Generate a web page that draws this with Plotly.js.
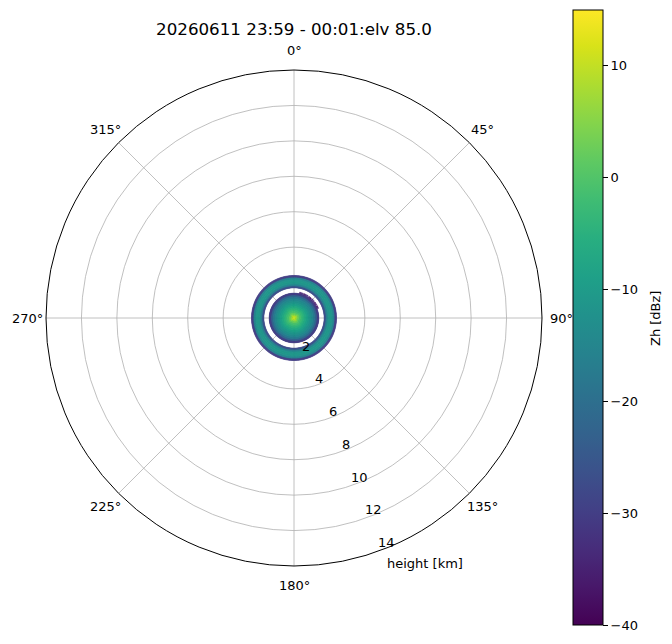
<!DOCTYPE html>
<html>
<head>
<meta charset="utf-8">
<script src="https://cdn.plot.ly/plotly-3.0.1.min.js"></script>
<style>html,body{margin:0;padding:0;background:#fff;}#chart{width:672px;height:644px;}</style>
</head>
<body>
<div id="chart"></div>
<script>
// ---- data ----
const titleText = "20260611 23:59 - 00:01:elv 85.0";
// range gate starts [km] and gate length
const gateStartKm = [0.0, 0.1, 0.2, 0.3, 0.4, 0.5, 0.6, 0.7, 0.8, 0.9, 1.0, 1.1, 1.2, 1.3,
                     1.4, 1.5, 1.6, 1.7, 1.8, 1.9, 2.0, 2.1, 2.2, 2.3];
const gateLenKm = 0.1;
// reflectivity profile along range (null = no echo)
const gateZh = [10, 6, 2, -1, -3, -5, -7, -9, -11, -13, -15, -18, -23, -30,
                null, null, null, -27, -17, -12, -11, -12, -16, -30];
// sparse weak echoes just outside the inner disk (upper-right)
const edgeAzDeg = [14, 18, 23, 27, 31, 36, 40, 45, 49, 54, 58, 63, 67];
const edgeZh = [-36, -34, -37, -35, -33, -36, -38, -35, -34, -37, -36, -38, -35];
const edgeStartKm = 1.42;
const edgeLenKm = 0.07;
// azimuth sampling [deg]
const azStepDeg = 1;
const radialTicks = [2, 4, 6, 8, 10, 12, 14];
const radialMax = 14;
const angularTicks = [0, 45, 90, 135, 180, 225, 270, 315];
const cbTicks = [-40, -30, -20, -10, 0, 10];
const zMin = -40, zMax = 15;

// ---- build bars ----
const th = [], base = [], rr = [], col = [], wd = [];
for (let az = 0; az < 360; az += azStepDeg) {
  for (let g = 0; g < gateStartKm.length; g++) {
    if (gateZh[g] === null) continue;
    th.push(az + azStepDeg / 2);
    base.push(gateStartKm[g]);
    rr.push(gateLenKm);
    col.push(gateZh[g]);
    wd.push(azStepDeg);
  }
}
for (let i = 0; i < edgeAzDeg.length; i++) {
  th.push(edgeAzDeg[i]);
  base.push(edgeStartKm);
  rr.push(edgeLenKm);
  col.push(edgeZh[i]);
  wd.push(3);
}

const font = "DejaVu Sans, Liberation Sans, sans-serif";
const W = 672, H = 644;
const cx = 294, cy = 318, R = 248;
const labelAngle = 157.5 * Math.PI / 180;

const trace = {
  type: 'barpolar',
  theta: th, base: base, r: rr, width: wd,
  marker: {
    color: col, colorscale: 'Viridis', cmin: zMin, cmax: zMax,
    line: {width: 0.6, color: col, colorscale: 'Viridis', cmin: zMin, cmax: zMax},
    showscale: true,
    colorbar: {
      x: 573 / W, xanchor: 'left', xpad: 0,
      y: 1 - 317.5 / H, yanchor: 'middle', ypad: 0,
      thickness: 30, thicknessmode: 'pixels',
      len: 615, lenmode: 'pixels',
      outlinewidth: 1, outlinecolor: '#000',
      ticks: 'outside', ticklen: 5, tickwidth: 1, tickcolor: '#000',
      tickmode: 'array', tickvals: cbTicks,
      ticktext: cbTicks.map(v => v < 0 ? '\u2212' + Math.abs(v) : String(v)),
      tickfont: {family: font, size: 13, color: '#000'},
      title: {text: ''}
    }
  },
  hoverinfo: 'skip'
};

const tf = {family: font, size: 13, color: '#000'};
const annotations = [];
// angular tick labels
angularTicks.forEach(a => {
  const t = a * Math.PI / 180, d = R + 19;
  annotations.push({text: a + '\u00b0', xref: 'paper', yref: 'paper',
    x: (cx + d * Math.sin(t)) / W, y: 1 - (cy - d * Math.cos(t)) / H,
    xanchor: 'center', yanchor: 'middle', showarrow: false, font: tf});
});
// radial tick labels
radialTicks.forEach(v => {
  const d = v / radialMax * R - 5;
  annotations.push({text: String(v), xref: 'paper', yref: 'paper',
    x: (cx + d * Math.sin(labelAngle)) / W, y: 1 - (cy - d * Math.cos(labelAngle)) / H,
    xanchor: 'center', yanchor: 'middle', showarrow: false, font: tf});
});
annotations.push({text: 'height [km]', xref: 'paper', yref: 'paper',
  x: 425 / W, y: 1 - 563 / H, xanchor: 'center', yanchor: 'middle', showarrow: false, font: tf});
annotations.push({text: 'Zh [dBz]', xref: 'paper', yref: 'paper', textangle: -90,
  x: 655 / W, y: 1 - 319 / H, xanchor: 'center', yanchor: 'middle', showarrow: false, font: tf});

const layout = {
  width: W, height: H,
  margin: {l: 0, r: 0, t: 0, b: 0},
  paper_bgcolor: '#fff',
  font: {family: font, color: '#000', size: 13},
  showlegend: false,
  title: {text: titleText, x: cx / W, xanchor: 'center', y: 1 - 29 / H, yanchor: 'middle',
          font: {family: font, size: 16.7, color: '#000'}},
  polar: {
    domain: {x: [(cx - R) / W, (cx + R) / W], y: [1 - (cy + R) / H, 1 - (cy - R) / H]},
    bgcolor: '#fff',
    bargap: 0,
    angularaxis: {
      rotation: 90, direction: 'clockwise',
      tickmode: 'array', tickvals: angularTicks,
      ticks: '', showticklabels: false,
      showline: true, linecolor: '#000', linewidth: 1,
      gridcolor: '#b0b0b0', gridwidth: 0.8
    },
    radialaxis: {
      range: [0, radialMax], angle: -67.5,
      tickmode: 'array', tickvals: radialTicks,
      showline: false, ticks: '', showticklabels: false,
      gridcolor: '#b0b0b0', gridwidth: 0.8
    }
  },
  annotations: annotations
};

Plotly.newPlot('chart', [trace], layout, {displayModeBar: false, staticPlot: true});
</script>
</body>
</html>
